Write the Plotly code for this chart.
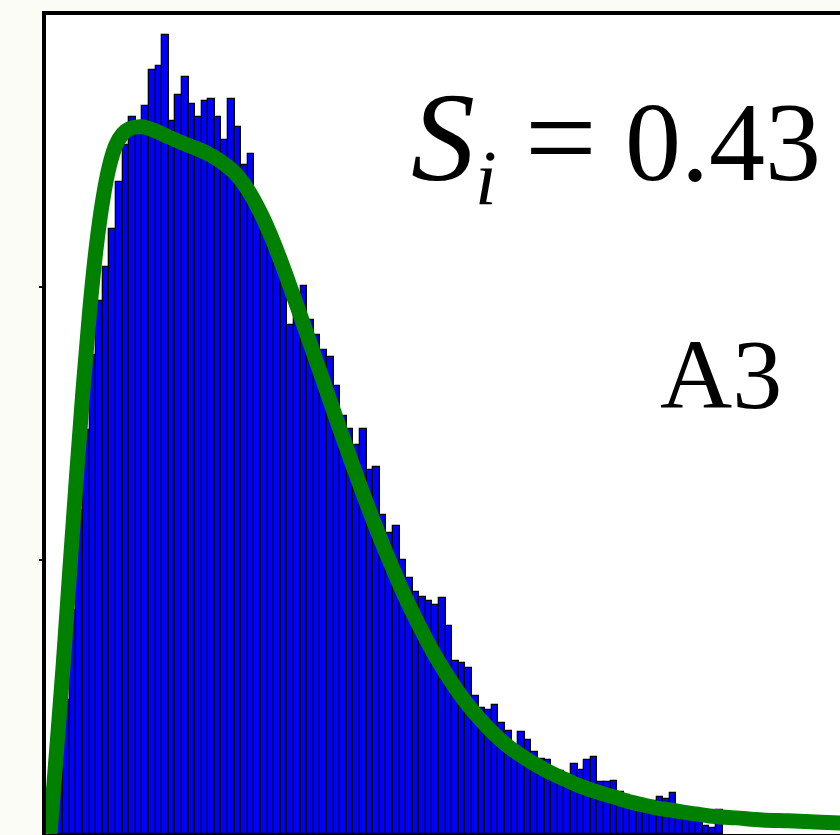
import plotly.graph_objects as go

# Histogram counts (density units), one value per unit-width bin starting at 0
bin_heights = [
    0.051, 0.216, 0.490, 0.819, 1.185, 1.477, 1.751, 1.949, 2.073, 2.212,
    2.384, 2.519, 2.622, 2.603, 2.662, 2.793, 2.808, 2.921, 2.607, 2.702,
    2.768, 2.669, 2.622, 2.680, 2.687, 2.622, 2.537, 2.687, 2.585, 2.446,
    2.486, 2.318, 2.260, 2.190, 2.091, 2.018, 1.861, 1.934, 2.004, 1.879,
    1.824, 1.770, 1.744, 1.638, 1.528, 1.481, 1.422, 1.481, 1.331, 1.342,
    1.166, 1.101, 1.126, 1.002, 0.936, 0.885, 0.867, 0.852, 0.837, 0.863,
    0.761, 0.633, 0.625, 0.607, 0.505, 0.461, 0.453, 0.472, 0.406, 0.377,
    0.325, 0.373, 0.344, 0.300, 0.274, 0.271, 0.230, 0.230, 0.208, 0.256,
    0.234, 0.271, 0.282, 0.190, 0.190, 0.194, 0.154, 0.143, 0.128, 0.106,
    0.102, 0.121, 0.135, 0.128, 0.150, 0.080, 0.077, 0.051, 0.044, 0.029,
    0.022, 0.088,
]
bin_start = 0.0
bin_width = 1.0

# Fitted density curve
fit_x = [0, 1, 2, 3, 4, 5, 6, 7, 8, 9, 10, 11, 12, 14, 16, 18, 20, 22, 24,
         26, 28, 30, 32, 34, 36, 38, 40, 42, 44, 46, 48, 50, 52, 54, 56, 58,
         60, 62, 64, 66, 68, 70, 72, 74, 76, 78, 80, 82, 84, 86, 88, 90, 92,
         94, 96, 98, 100, 104, 108, 112, 116, 120]
fit_y = [0.000, 0.307, 0.618, 0.965, 1.302, 1.623, 1.909, 2.143, 2.318,
         2.442, 2.519, 2.559, 2.578, 2.585, 2.570, 2.548, 2.527, 2.508,
         2.486, 2.457, 2.417, 2.355, 2.267, 2.157, 2.029, 1.894, 1.755,
         1.616, 1.477, 1.342, 1.210, 1.086, 0.969, 0.859, 0.761, 0.669,
         0.589, 0.516, 0.453, 0.399, 0.351, 0.311, 0.278, 0.249, 0.223,
         0.201, 0.179, 0.161, 0.146, 0.132, 0.117, 0.106, 0.095, 0.088,
         0.080, 0.073, 0.066, 0.059, 0.051, 0.048, 0.044, 0.040]

stat_label = ("<span style='font-size:128px'><i>S</i></span><sub><i>i</i></sub>"
              " <span style='font-size:128px'>=</span> 0.43")
panel_label = "A3"

bin_centers = [bin_start + bin_width * (k + 0.5) for k in range(len(bin_heights))]

fig = go.Figure()
fig.add_trace(go.Bar(
    x=bin_centers,
    y=bin_heights,
    width=bin_width,
    marker=dict(color="#0000ff", line=dict(color="#000000", width=1.3)),
    hoverinfo="skip",
))
fig.add_trace(go.Scatter(
    x=fit_x,
    y=fit_y,
    mode="lines",
    line=dict(color="#008000", width=15, shape="spline", smoothing=1.0),
    hoverinfo="skip",
))

fig.update_layout(
    width=840,
    height=835,
    margin=dict(l=46, r=0, t=15, b=1),
    paper_bgcolor="#fbfcf5",
    plot_bgcolor="#ffffff",
    showlegend=False,
    bargap=0,
    xaxis=dict(
        range=[-0.61, 119.8],
        showgrid=False,
        zeroline=False,
        showline=True,
        mirror=True,
        linecolor="#000000",
        linewidth=4,
        showticklabels=False,
        ticks="",
    ),
    yaxis=dict(
        range=[0, 2.994],
        showgrid=False,
        zeroline=False,
        showline=True,
        mirror=False,
        linecolor="#000000",
        linewidth=4,
        tickvals=[1, 2],
        ticks="outside",
        ticklen=3,
        tickwidth=2,
        tickcolor="#000000",
        showticklabels=False,
    ),
    annotations=[
        dict(
            text=stat_label,
            xref="paper", yref="paper",
            x=0.978, y=0.843,
            xanchor="right", yanchor="middle",
            showarrow=False,
            font=dict(family="Liberation Serif", size=112, color="#000000"),
        ),
        dict(
            text=panel_label,
            xref="paper", yref="paper",
            x=0.850, y=0.561,
            xanchor="center", yanchor="middle",
            showarrow=False,
            font=dict(family="Liberation Serif", size=100, color="#000000"),
        ),
    ],
)

fig.write_html("out.html")
